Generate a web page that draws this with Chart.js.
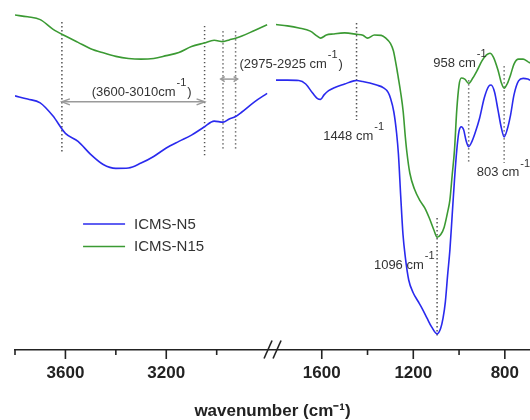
<!DOCTYPE html>
<html><head><meta charset="utf-8">
<script src="https://cdn.jsdelivr.net/npm/chart.js@4.4.1/dist/chart.umd.min.js"></script>
<style>html,body{margin:0;padding:0;background:#fff}#wrap{width:530px;height:420px}</style>
</head><body><div id="wrap"><canvas id="c" width="530" height="420"></canvas></div>
<script>
// ---------------- data (wavenumber in cm-1, transmittance in a.u.) ----------------
const seriesNames = ['ICMS-N5', 'ICMS-N15'];

const wnHigh = [3800,3750,3700,3650,3600,3550,3500,3450,3400,3350,3300,3250,3200,3150,3100,3050,3010,2975,2950,2925,2900,2850,2800];
const n5High = [72.6,71.7,70.6,66.9,61.9,59.6,55.9,53.0,51.9,52.0,53.4,55.3,57.7,59.6,61.4,63.7,65.4,65.1,66.0,66.7,68.0,70.9,73.3];
const n15High = [95.7,95.2,94.4,91.7,89.7,87.9,86.1,84.9,83.9,83.3,83.1,83.3,84.1,85.0,86.7,87.7,88.5,88.1,88.6,89.1,89.7,91.3,92.9];

const wnN5Low = [1800,1750,1700,1670,1640,1620,1605,1590,1570,1540,1500,1460,1448,1420,1390,1360,1330,1310,1300,1285,1273,1265,1255,1245,1235,1220,1200,1180,1160,1140,1120,1096,1080,1070,1060,1050,1040,1030,1020,1010,1000,990,980,970,958,945,930,910,890,870,860,845,830,815,803,790,775,760,740,720,700,690];
const n5Low = [77.1,77.1,77.0,76.0,73.4,71.9,71.6,72.9,74.1,75.1,76.0,76.9,77.0,76.7,76.3,75.7,74.9,73.6,72.0,68.0,62.0,56.0,44.0,33.0,26.6,20.0,16.3,14.0,11.7,9.1,6.6,4.6,6.3,9.1,13.7,21.4,28.6,38.6,48.6,57.1,62.6,63.8,62.9,60.0,58.1,59.4,62.0,66.3,72.0,75.4,75.7,73.7,68.6,63.4,60.9,62.9,67.1,72.9,76.9,77.6,77.4,77.1];

const wnN15Low = [1800,1750,1700,1650,1620,1605,1580,1550,1500,1448,1420,1400,1370,1340,1320,1300,1287,1275,1266,1255,1244,1235,1228,1215,1195,1170,1150,1130,1110,1096,1080,1065,1050,1040,1030,1020,1010,1000,990,975,958,940,920,900,880,865,850,830,815,803,790,775,760,740,720,700,690];
const n15Low = [93.0,92.6,92.0,91.1,89.7,89.1,90.0,90.3,90.6,90.2,89.9,89.1,90.0,89.9,89.1,87.6,85.5,81.5,78.0,73.5,68.0,61.0,56.5,50.5,46.0,42.6,40.6,37.7,34.3,32.2,33.0,35.1,39.4,42.9,50.0,57.1,68.6,75.7,77.7,77.4,76.2,77.7,80.0,82.6,84.3,84.8,83.7,80.0,76.3,74.8,76.0,78.6,81.7,83.1,83.1,82.4,82.0];

// tick marks on the broken wavenumber axis
const tickWn = [3800,3600,3400,3200,3000,1600,1400,1200,1000,800];
const tickLabels = ['','3600','','3200','','1600','','1200','','800'];

// dotted band markers
const markerWn = [3614,3048,2975,2925,1448,1096,958,803];
const markerTop = [93.7,92.6,91.1,91.1,93.4,37.7,77.1,81.1];
const markerBottom = [56.6,55.1,57.1,57.1,65.7,3.4,53.4,53.4];

// range arrows
const arrowFrom = [3614,2984];
const arrowTo = [3048,2917];
const arrowLevel = [70.9,77.4];

// annotation labels (anchor = left edge / middle of text)
const noteMain = ['(3600-3010cm','(2975-2925 cm','1448 cm','958 cm','803 cm','1096 cm'];
const noteSup = ['-1','-1','-1','-1','-1','-1'];
const noteTail = [')',')','','','',''];
const noteWn = [3496,2910,1593,1113,923,1372];
const noteVal = [73.7,81.7,61.1,81.9,50.6,24.3];

// ---------------- broken-axis coordinate ----------------
const GAP_LO = 1800, GAP_HI = 2800, BREAK_W = 38.8, HIGH_STRETCH = 1.1017;
function u(w){ return w <= GAP_LO ? w : GAP_LO + BREAK_W + (w - GAP_HI) * HIGH_STRETCH; }

function buildSeries(wh, vh, wl, vl){
  const pts = wh.map((w,i)=>({x:u(w), y:vh[i]}));
  pts.push({x:u(2300), y:null});
  wl.forEach((w,i)=>pts.push({x:u(w), y:vl[i]}));
  return pts;
}

const BLUE = '#2a2aee', GREEN = '#3b9a33';
const FONT = "'Liberation Sans', Arial, Helvetica, sans-serif";

const datasets = [
  {label: seriesNames[0], data: buildSeries(wnHigh, n5High, wnN5Low, n5Low), borderColor: BLUE, borderWidth: 1.6, pointRadius: 0, cubicInterpolationMode: 'monotone', spanGaps: false},
  {label: seriesNames[1], data: buildSeries(wnHigh, n15High, wnN15Low, n15Low), borderColor: GREEN, borderWidth: 1.6, pointRadius: 0, cubicInterpolationMode: 'monotone', spanGaps: false}
];
markerWn.forEach((w,i)=>{
  datasets.push({label: 'marker', data: [{x:u(w), y:markerTop[i]}, {x:u(w), y:markerBottom[i]}], borderColor: '#555', borderWidth: 1.5, borderDash: [1.4, 2.6], pointRadius: 0, tension: 0});
});

const decor = {
  id: 'decor',
  afterDatasetsDraw(chart){
    const {ctx, scales:{x, y}} = chart;
    const X = w => x.getPixelForValue(u(w));
    const Y = v => y.getPixelForValue(v);
    const axisY = x.top;
    ctx.save();
    // tick marks (major long, minor short)
    ctx.strokeStyle = '#222'; ctx.lineWidth = 1.6;
    tickWn.forEach((w,i)=>{
      const len = tickLabels[i] ? 9 : 5;
      const px = X(w);
      ctx.beginPath(); ctx.moveTo(px, axisY); ctx.lineTo(px, axisY + len); ctx.stroke();
    });
    // axis break marks
    const mid = (X(GAP_HI) + X(GAP_LO)) / 2;
    [[-7.5, 0.5], [1.5, 9.5]].forEach(([b,t])=>{
      ctx.beginPath(); ctx.moveTo(mid + b, axisY + 8.5); ctx.lineTo(mid + t, axisY - 9.5); ctx.stroke();
    });
    // range arrows
    ctx.strokeStyle = '#9a9a9a'; ctx.lineWidth = 1.5;
    arrowFrom.forEach((wf,i)=>{
      const x1 = X(wf), x2 = X(arrowTo[i]), yy = Y(arrowLevel[i]);
      const hl = Math.abs(x2 - x1) > 40 ? 8 : 4, hw = Math.abs(x2 - x1) > 40 ? 3 : 2.5;
      ctx.beginPath(); ctx.moveTo(x1, yy); ctx.lineTo(x2, yy); ctx.stroke();
      ctx.beginPath();
      ctx.moveTo(x1 + hl, yy - hw); ctx.lineTo(x1, yy); ctx.lineTo(x1 + hl, yy + hw);
      ctx.moveTo(x2 - hl, yy - hw); ctx.lineTo(x2, yy); ctx.lineTo(x2 - hl, yy + hw);
      ctx.stroke();
    });
    // annotation texts with superscripts
    ctx.fillStyle = '#333'; ctx.textBaseline = 'middle'; ctx.textAlign = 'left';
    noteMain.forEach((t,i)=>{
      const x0 = X(noteWn[i]), y0 = Y(noteVal[i]);
      ctx.font = '13px ' + FONT;
      ctx.fillText(t, x0, y0);
      const w1 = ctx.measureText(t).width;
      ctx.font = '11px ' + FONT;
      ctx.fillText(noteSup[i], x0 + w1 + 1, y0 - 9);
      const w2 = ctx.measureText(noteSup[i]).width;
      if (noteTail[i]) { ctx.font = '13px ' + FONT; ctx.fillText(noteTail[i], x0 + w1 + w2 + 2, y0); }
    });
    // legend
    ctx.font = '15px ' + FONT; ctx.fillStyle = '#333';
    [0,1].forEach(i=>{
      const ds = chart.data.datasets[i];
      const ly = Y(36) + i * 22.5;
      const lx = X(3530);
      ctx.strokeStyle = ds.borderColor; ctx.lineWidth = 1.6;
      ctx.beginPath(); ctx.moveTo(lx, ly); ctx.lineTo(lx + 42, ly); ctx.stroke();
      ctx.fillText(ds.label, lx + 51, ly + 0.5);
    });
    ctx.restore();
  }
};

new Chart(document.getElementById('c'), {
  type: 'line',
  data: {datasets},
  options: {
    responsive: false, animation: false, devicePixelRatio: 1,
    layout: {padding: {left: 15, right: 0, top: 0, bottom: 0}},
    plugins: {legend: {display: false}, tooltip: {enabled: false}},
    scales: {
      x: {
        type: 'linear', reverse: true, min: 690, max: u(3800),
        afterBuildTicks: (s) => { s.ticks = tickWn.map(w => ({value: u(w)})); },
        afterFit: (s) => { s.height = 70; },
        grid: {display: false, drawTicks: true, tickLength: 9},
        border: {display: true, color: '#222', width: 1.6},
        ticks: {autoSkip: false, maxRotation: 0, padding: 4, color: '#222',
          font: {family: FONT, size: 17, weight: 'bold'},
          callback: (v, i) => tickLabels[i]},
        title: {display: true, text: 'wavenumber (cm⁻¹)', color: '#222', padding: {top: 0, bottom: 0},
          font: {family: FONT, size: 17, weight: 'bold', lineHeight: 1}}
      },
      y: {display: false, min: 0, max: 100}
    }
  },
  plugins: [decor]
});
</script></body></html>
